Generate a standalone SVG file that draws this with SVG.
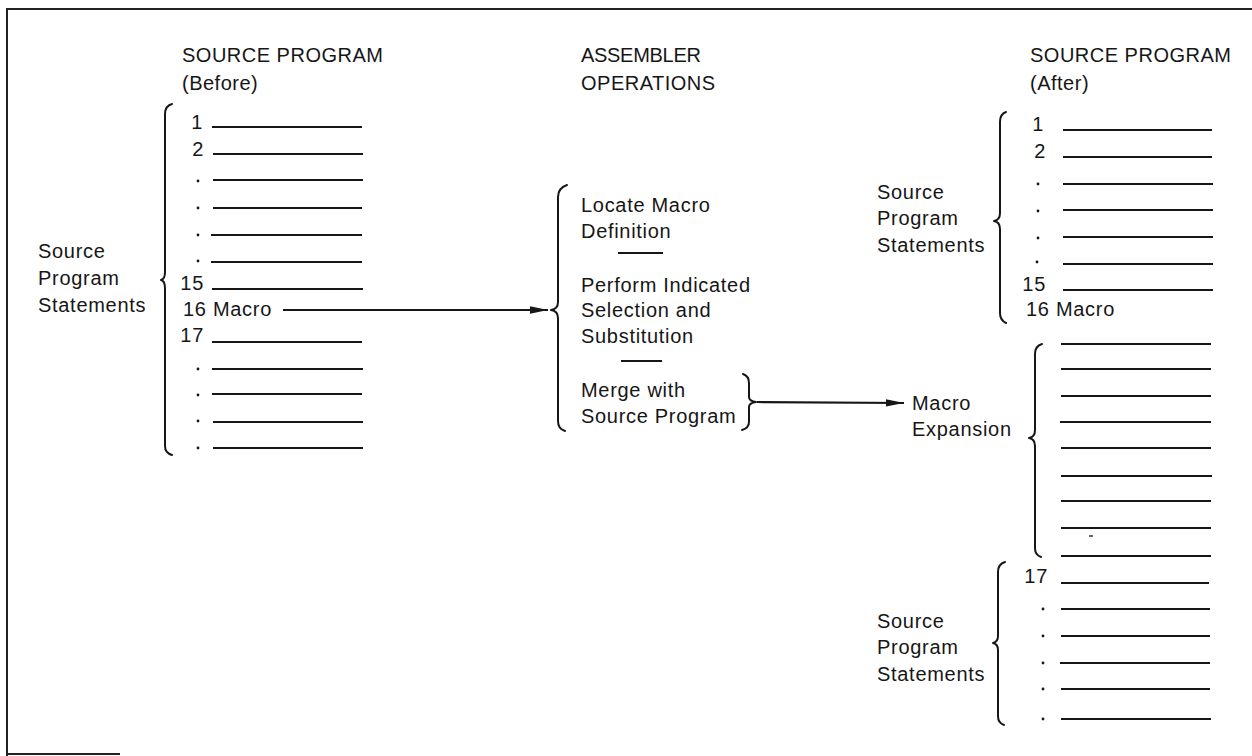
<svg xmlns="http://www.w3.org/2000/svg" width="1252" height="756" viewBox="0 0 1252 756">
  <style>
    text { font-family: "Liberation Sans", Arial, sans-serif; font-size: 20px; fill: #161616; letter-spacing: 0.7px; }
    .hdr { letter-spacing: 0.5px; }
    .tight { letter-spacing: -0.3px; }
    .num { text-anchor: end; }
    .rule { stroke: #161616; stroke-width: 2; fill: none; }
    .brace { stroke: #161616; stroke-width: 2; fill: none; stroke-linejoin: round; stroke-linecap: round; }
    .dot { fill: #161616; }
    .frame { stroke: #222; stroke-width: 2; fill: none; }
    .conn { stroke: #161616; stroke-width: 2.2; fill: none; }
  </style>
  <defs>
    <marker id="arrow" viewBox="0 0 18 9" refX="18" refY="4.5" markerWidth="18" markerHeight="9" markerUnits="userSpaceOnUse" orient="auto">
      <path d="M0,0.8 L18,4.5 L0,8.2 Z" fill="#161616"/>
    </marker>
  </defs>
  <rect width="1252" height="756" fill="#ffffff"/>

  <!-- page frame (top and left edges, short bottom stub) -->
  <g id="frame">
    <line class="frame" x1="7" y1="9" x2="1252" y2="9"/>
    <line class="frame" x1="7" y1="8" x2="7" y2="756"/>
    <line class="frame" x1="7" y1="754" x2="120" y2="754" stroke="#555"/>
  </g>

  <!-- source program before assembly -->
  <g id="source-before">
    <text class="hdr" x="182" y="62">SOURCE PROGRAM</text>
    <text class="hdr" x="182" y="90">(Before)</text>
    <text x="38" y="258">Source</text>
    <text x="38" y="285">Program</text>
    <text x="38" y="312">Statements</text>
    <path class="brace" d="M172,104 Q165,106 165,114 L165,272 Q165,279 161,280 Q165,281 165,288 L165,446 Q165,453 172,455"/>
    <text class="num" x="203" y="129">1</text>
    <text class="num" x="204" y="156">2</text>
    <text class="num" x="204" y="290">15</text>
    <text class="num" x="204" y="342">17</text>
    <text x="183" y="316">16 Macro</text>
    <g class="dot">
      <circle cx="198" cy="181" r="1.4"/>
      <circle cx="198" cy="208" r="1.4"/>
      <circle cx="198" cy="235" r="1.4"/>
      <circle cx="198" cy="261" r="1.4"/>
      <circle cx="198" cy="369" r="1.4"/>
      <circle cx="198" cy="395" r="1.4"/>
      <circle cx="198" cy="421" r="1.4"/>
      <circle cx="198" cy="448" r="1.4"/>
    </g>
    <g class="rule">
      <line x1="212" y1="127" x2="362" y2="127"/>
      <line x1="213" y1="154" x2="363" y2="154"/>
      <line x1="213" y1="180" x2="363" y2="180"/>
      <line x1="213" y1="208" x2="362" y2="208"/>
      <line x1="211" y1="235" x2="362" y2="235"/>
      <line x1="211" y1="262" x2="362" y2="262"/>
      <line x1="212" y1="289" x2="363" y2="289"/>
      <line x1="212" y1="342" x2="362" y2="342"/>
      <line x1="212" y1="369" x2="363" y2="369"/>
      <line x1="212" y1="394" x2="362" y2="394"/>
      <line x1="213" y1="422" x2="363" y2="422"/>
      <line x1="213" y1="448" x2="363" y2="448"/>
    </g>
  </g>

  <!-- assembler operations -->
  <g id="assembler-operations">
    <text class="tight" x="581" y="62">ASSEMBLER</text>
    <text class="hdr" x="581" y="90">OPERATIONS</text>
    <path class="brace" d="M567,185 Q558,188 558,197 L558,302 Q558,309 551,310 Q558,311 558,318 L558,421 Q558,429 565,431"/>
    <text x="581" y="212">Locate Macro</text>
    <text x="581" y="238">Definition</text>
    <line class="rule" x1="618" y1="253" x2="663" y2="253"/>
    <text x="581" y="292">Perform Indicated</text>
    <text x="581" y="317">Selection and</text>
    <text x="581" y="343">Substitution</text>
    <line class="rule" x1="621" y1="361" x2="662" y2="361"/>
    <text x="581" y="397">Merge with</text>
    <text x="581" y="423">Source Program</text>
    <path class="brace" d="M743,374 Q749,376 749,383 L749,397 Q749,401 756,402 Q749,403 749,407 L749,422 Q749,428 742,430"/>
  </g>

  <!-- source program after assembly -->
  <g id="source-after">
    <text class="hdr" x="1030" y="62">SOURCE PROGRAM</text>
    <text class="hdr" x="1030" y="90">(After)</text>
    <text x="877" y="199">Source</text>
    <text x="877" y="225">Program</text>
    <text x="877" y="252">Statements</text>
    <path class="brace" d="M1006,112 Q1000,114 1000,122 L1000,213 Q1000,220 994,221 Q1000,222 1000,229 L1000,313 Q1000,320 1006,323"/>
    <text class="num" x="1044" y="131">1</text>
    <text class="num" x="1046" y="158">2</text>
    <text class="num" x="1046" y="291">15</text>
    <text x="1026" y="316">16 Macro</text>
    <g class="dot">
      <circle cx="1038" cy="184" r="1.4"/>
      <circle cx="1038" cy="211" r="1.4"/>
      <circle cx="1038" cy="238" r="1.4"/>
      <circle cx="1037" cy="262" r="1.4"/>
    </g>
    <g class="rule">
      <line x1="1063" y1="130" x2="1212" y2="130"/>
      <line x1="1063" y1="157" x2="1212" y2="157"/>
      <line x1="1063" y1="184" x2="1213" y2="184"/>
      <line x1="1063" y1="210" x2="1213" y2="210"/>
      <line x1="1063" y1="237" x2="1213" y2="237"/>
      <line x1="1063" y1="264" x2="1213" y2="264"/>
      <line x1="1063" y1="290" x2="1213" y2="290"/>
    </g>
  </g>

  <!-- macro expansion block -->
  <g id="macro-expansion">
    <text x="912" y="410">Macro</text>
    <text x="912" y="436">Expansion</text>
    <path class="brace" d="M1042,344 Q1035,346 1035,354 L1035,430 Q1035,437 1029,438 Q1035,439 1035,446 L1035,548 Q1035,555 1041,557"/>
    <g class="rule">
      <line x1="1061" y1="344" x2="1211" y2="344"/>
      <line x1="1061" y1="369" x2="1211" y2="369"/>
      <line x1="1061" y1="396" x2="1211" y2="396"/>
      <line x1="1060" y1="422" x2="1211" y2="422"/>
      <line x1="1061" y1="448" x2="1211" y2="448"/>
      <line x1="1061" y1="476" x2="1212" y2="476"/>
      <line x1="1061" y1="501" x2="1211" y2="501"/>
      <line x1="1061" y1="528" x2="1211" y2="528"/>
      <line x1="1061" y1="556" x2="1211" y2="556"/>
    </g>
    <line x1="1089" y1="536" x2="1093" y2="536" stroke="#333" stroke-width="1.5"/>
  </g>

  <!-- remaining source statements after the expansion -->
  <g id="source-after-rest">
    <text x="877" y="628">Source</text>
    <text x="877" y="654">Program</text>
    <text x="877" y="681">Statements</text>
    <path class="brace" d="M1005,562 Q998,564 998,572 L998,636 Q998,642 993,643 Q998,644 998,650 L998,716 Q998,723 1004,725"/>
    <text class="num" x="1048" y="583">17</text>
    <g class="dot">
      <circle cx="1043" cy="609" r="1.4"/>
      <circle cx="1043" cy="636" r="1.4"/>
      <circle cx="1043" cy="663" r="1.4"/>
      <circle cx="1043" cy="689" r="1.4"/>
      <circle cx="1043" cy="719" r="1.4"/>
    </g>
    <g class="rule">
      <line x1="1061" y1="583" x2="1209" y2="583"/>
      <line x1="1061" y1="609" x2="1210" y2="609"/>
      <line x1="1061" y1="636" x2="1210" y2="636"/>
      <line x1="1060" y1="663" x2="1210" y2="663"/>
      <line x1="1061" y1="689" x2="1210" y2="689"/>
      <line x1="1061" y1="719" x2="1211" y2="719"/>
    </g>
  </g>

  <!-- connectors -->
  <g id="connectors">
    <line class="conn" x1="283" y1="310" x2="548" y2="310" marker-end="url(#arrow)"/>
    <line class="conn" x1="757" y1="402" x2="904" y2="403" marker-end="url(#arrow)"/>
  </g>
</svg>
